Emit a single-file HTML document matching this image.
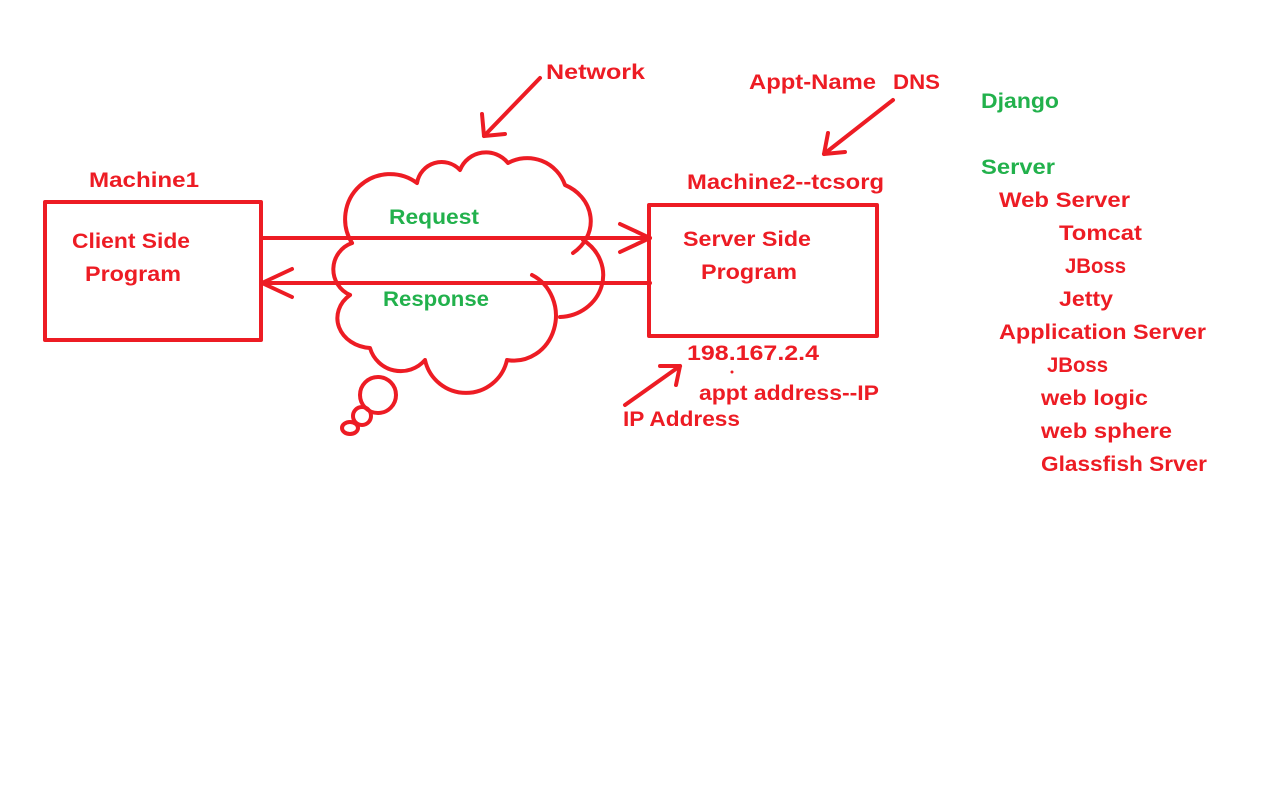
<!DOCTYPE html>
<html><head><meta charset="utf-8"><style>html,body{margin:0;padding:0;background:#fff}svg{display:block}</style></head>
<body>
<svg width="1271" height="805" viewBox="0 0 1271 805" xmlns="http://www.w3.org/2000/svg">
<g fill="none" stroke="#ED1C24" stroke-width="4" stroke-linecap="round" stroke-linejoin="round">
<rect x="45" y="202" width="216" height="138"/>
<rect x="649" y="205" width="228" height="131"/>
<!-- cloud -->
<path d="M352,243 A45,45 0 0 1 417,183 A25,25 0 0 1 460,170 A28,28 0 0 1 508,163 A40,40 0 0 1 565,185 A45,40 0 0 1 573,253"/>
<path d="M583,240 A45,42 0 0 1 560,317"/>
<path d="M532,275 A42,45 0 0 1 507,360 A42,42 0 0 1 425,360 A32,32 0 0 1 370,348 A35,30 0 0 1 350,295"/>
<path d="M350,295 A28,28 0 0 1 352,243"/>
<circle cx="378" cy="395" r="18"/>
<circle cx="362" cy="416" r="9"/>
<ellipse cx="350" cy="428" rx="8" ry="6"/>
<!-- arrows -->
<line x1="262" y1="238" x2="650" y2="238"/>
<polyline points="620,224 650,238 620,252"/>
<line x1="650" y1="283" x2="262" y2="283"/>
<polyline points="292,269 262,283 292,297"/>
<line x1="540" y1="78" x2="484" y2="136"/>
<polyline points="482,114 484,136 505,134"/>
<line x1="893" y1="100" x2="824" y2="154"/>
<polyline points="828,133 824,154 845,152"/>
<line x1="625" y1="405" x2="680" y2="366"/>
<polyline points="660,366 680,366 676,385"/>
</g>
<circle cx="732" cy="372" r="1.5" fill="#ED1C24"/>
<g font-family="Liberation Sans, sans-serif" font-weight="bold" font-size="21" fill="#ED1C24">
<text x="546" y="79" textLength="99" lengthAdjust="spacingAndGlyphs">Network</text>
<text x="749" y="89" textLength="127" lengthAdjust="spacingAndGlyphs">Appt-Name</text>
<text x="893" y="89" textLength="47" lengthAdjust="spacingAndGlyphs">DNS</text>
<text x="89" y="187" textLength="110" lengthAdjust="spacingAndGlyphs">Machine1</text>
<text x="687" y="189" textLength="197" lengthAdjust="spacingAndGlyphs">Machine2--tcsorg</text>
<text x="72" y="248" textLength="118" lengthAdjust="spacingAndGlyphs">Client Side</text>
<text x="85" y="281" textLength="96" lengthAdjust="spacingAndGlyphs">Program</text>
<text x="683" y="246" textLength="128" lengthAdjust="spacingAndGlyphs">Server Side</text>
<text x="701" y="279" textLength="96" lengthAdjust="spacingAndGlyphs">Program</text>
<text x="687" y="360" textLength="132" lengthAdjust="spacingAndGlyphs">198.167.2.4</text>
<text x="699" y="400" textLength="180" lengthAdjust="spacingAndGlyphs">appt address--IP</text>
<text x="623" y="426" textLength="117" lengthAdjust="spacingAndGlyphs">IP Address</text>
<text x="999" y="207" textLength="131" lengthAdjust="spacingAndGlyphs">Web Server</text>
<text x="1059" y="240" textLength="83" lengthAdjust="spacingAndGlyphs">Tomcat</text>
<text x="1065" y="273" textLength="61" lengthAdjust="spacingAndGlyphs">JBoss</text>
<text x="1059" y="306" textLength="54" lengthAdjust="spacingAndGlyphs">Jetty</text>
<text x="999" y="339" textLength="207" lengthAdjust="spacingAndGlyphs">Application Server</text>
<text x="1047" y="372" textLength="61" lengthAdjust="spacingAndGlyphs">JBoss</text>
<text x="1041" y="405" textLength="107" lengthAdjust="spacingAndGlyphs">web logic</text>
<text x="1041" y="438" textLength="131" lengthAdjust="spacingAndGlyphs">web sphere</text>
<text x="1041" y="471" textLength="166" lengthAdjust="spacingAndGlyphs">Glassfish Srver</text>
</g>
<g font-family="Liberation Sans, sans-serif" font-weight="bold" font-size="21" fill="#22B14C">
<text x="981" y="108" textLength="78" lengthAdjust="spacingAndGlyphs">Django</text>
<text x="981" y="174" textLength="74" lengthAdjust="spacingAndGlyphs">Server</text>
<text x="389" y="224" textLength="90" lengthAdjust="spacingAndGlyphs">Request</text>
<text x="383" y="306" textLength="106" lengthAdjust="spacingAndGlyphs">Response</text>
</g>
</svg>
</body></html>
